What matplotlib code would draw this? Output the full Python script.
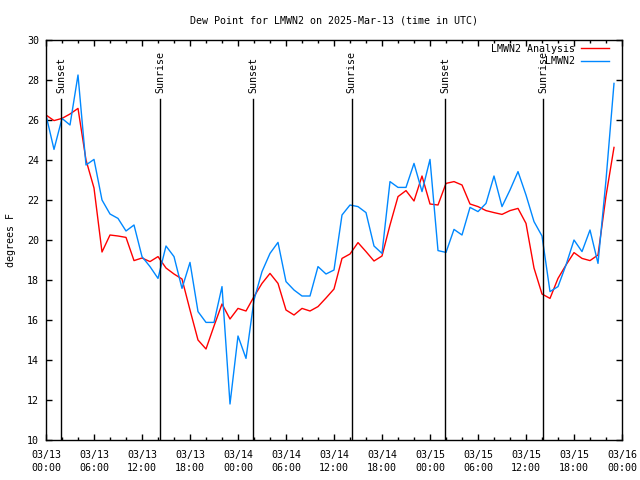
import matplotlib
matplotlib.use('Agg')
import matplotlib.pyplot as plt
import matplotlib.dates as mdates
import numpy as np
import pandas as pd

# hourly samples starting 2025-03-13 00:00 UTC
start = '2025-03-13 00:00'
analysis = [26.25, 25.97, 26.08, 26.3, 26.58, 24.0, 22.6, 19.4, 20.25, 20.2,
            20.13, 18.97, 19.1, 18.92, 19.17, 18.6, 18.3, 18.05, 16.5, 15.0,
            14.55, 15.7, 16.8, 16.05, 16.58, 16.45, 17.17, 17.83, 18.33, 17.83,
            16.5, 16.25, 16.58, 16.45, 16.67, 17.1, 17.55, 19.08, 19.3, 19.87,
            19.42, 18.95, 19.2, 20.75, 22.17, 22.47, 21.95, 23.2, 21.8, 21.75,
            22.83, 22.92, 22.75, 21.8, 21.67, 21.47, 21.37, 21.28, 21.47, 21.58,
            20.83, 18.6, 17.3, 17.08, 18.08, 18.75, 19.37, 19.08, 18.97, 19.25,
            22.2, 24.63]
station = [26.25, 24.53, 26.08, 25.75, 28.25, 23.75, 24.03, 22.0, 21.3, 21.08,
           20.45, 20.75, 19.17, 18.67, 18.08, 19.7, 19.17, 17.58, 18.88, 16.42,
           15.88, 15.88, 17.67, 11.8, 15.2, 14.08, 17.0, 18.42, 19.33, 19.88,
           17.92, 17.5, 17.2, 17.2, 18.67, 18.3, 18.5, 21.25, 21.75, 21.67,
           21.37, 19.7, 19.33, 22.92, 22.63, 22.63, 23.83, 22.42, 24.03, 19.47,
           19.38, 20.53, 20.25, 21.63, 21.42, 21.83, 23.2, 21.67, 22.5, 23.42,
           22.25, 20.92, 20.2, 17.42, 17.67, 18.75, 20.0, 19.42, 20.5, 18.83,
           23.0, 27.83]
times = pd.date_range(start, periods=len(analysis), freq='h')

# sun events, hours after start
sun_hours = [1.92, 14.3, 25.92, 38.2, 49.93, 62.15]
sun_labels = ['Sunset', 'Sunrise', 'Sunset', 'Sunrise', 'Sunset', 'Sunrise']

plt.rcParams['font.family'] = 'DejaVu Sans Mono'
plt.rcParams['font.size'] = 7.2

fig = plt.figure(figsize=(6.4, 4.8), dpi=100)
ax = fig.add_axes([46/640, 40/480, 576/640, 400/480])

ax.plot(times, analysis, color='#ff0000', lw=1, label='LMWN2 Analysis')
ax.plot(times, station, color='#0088ff', lw=1, label='         LMWN2')

t0 = pd.Timestamp(start)
for h, lab in zip(sun_hours, sun_labels):
    t = t0 + pd.Timedelta(hours=h)
    ax.plot([t, t], [10, 27.05], color='black', lw=1)
    ax.text(t, 27.35, lab, rotation=90, ha='center', va='bottom')

ax.set_xlim(t0, t0 + pd.Timedelta(hours=72))
ax.set_ylim(10, 30)
ax.set_yticks(np.arange(10, 31, 2))
ax.xaxis.set_major_locator(mdates.HourLocator(byhour=range(0, 24, 6)))
ax.xaxis.set_minor_locator(mdates.HourLocator(byhour=range(0, 24, 2)))
ax.xaxis.set_major_formatter(mdates.DateFormatter('%m/%d\n%H:%M'))
ax.tick_params(which='both', direction='in', top=True, right=True, width=1)
ax.tick_params(which='major', length=4, pad=5)
ax.tick_params(which='minor', length=2)
ax.tick_params(axis='x', pad=7)
for lbl in ax.get_xticklabels():
    lbl.set_linespacing(1.35)
for s in ax.spines.values():
    s.set_linewidth(1)

ax.set_title('Dew Point for LMWN2 on 2025-Mar-13 (time in UTC)',
             fontsize=7.2, pad=12)
ax.set_ylabel('degrees F', labelpad=8)

ax.legend(loc='upper right', bbox_to_anchor=(0.978, 0.99), frameon=False,
          markerfirst=False, handlelength=2.8, handletextpad=0.65,
          labelspacing=0.25, borderaxespad=0, borderpad=0)

fig.savefig('out.png', dpi=100)
